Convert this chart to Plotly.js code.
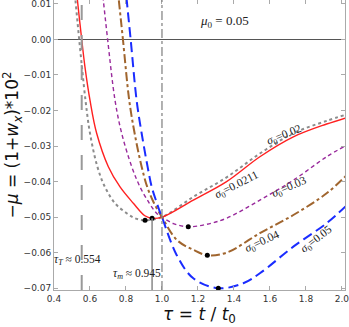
<!DOCTYPE html>
<html><head><meta charset="utf-8">
<script src="https://cdn.plot.ly/plotly-3.0.1.min.js"></script>
<style>html,body{margin:0;padding:0;background:#fff}#c{width:349px;height:327px}</style>
</head><body><div id="c"></div>
<script>
// sigma0 = 0.02 (gray dotted)
const tau002 = [0.510, 0.519, 0.540, 0.575, 0.600, 0.641, 0.683, 0.739, 0.804, 0.850, 0.906, 1.0, 1.174, 1.359, 1.544, 1.730, 1.915, 2.020];
const mu002  = [0.0160, 0.0111, 0.0, -0.0171, -0.0264, -0.0358, -0.0415, -0.0461, -0.0489, -0.0503, -0.0509, -0.0500, -0.0443, -0.0388, -0.0321, -0.0264, -0.0229, -0.0212];
// sigma0 = 0.0211 (red solid)
const tau0211 = [0.520, 0.530, 0.554, 0.572, 0.600, 0.637, 0.702, 0.767, 0.841, 0.905, 0.945, 1.0, 1.174, 1.359, 1.544, 1.730, 1.915, 2.020];
const mu0211  = [0.0160, 0.0111, 0.0, -0.0077, -0.0171, -0.0264, -0.0358, -0.0415, -0.0461, -0.0496, -0.0503, -0.0500, -0.0452, -0.0400, -0.0330, -0.0274, -0.0238, -0.0221];
// sigma0 = 0.03 (purple dashed)
const tau003 = [0.664, 0.674, 0.698, 0.739, 0.776, 0.832, 0.878, 0.930, 0.970, 1.0, 1.063, 1.146, 1.250, 1.359, 1.544, 1.730, 1.915, 2.020];
const mu003  = [0.0160, 0.0111, 0.0, -0.0171, -0.0264, -0.0358, -0.0415, -0.0461, -0.0489, -0.0500, -0.0518, -0.0527, -0.0520, -0.0503, -0.0452, -0.0396, -0.0330, -0.0299];
// sigma0 = 0.04 (brown dash-dot)
const tau004 = [0.750, 0.760, 0.783, 0.818, 0.848, 0.887, 0.918, 0.956, 0.987, 1.0, 1.082, 1.174, 1.252, 1.359, 1.544, 1.730, 1.915, 2.020];
const mu004  = [0.0160, 0.0111, 0.0, -0.0171, -0.0264, -0.0358, -0.0415, -0.0461, -0.0489, -0.0500, -0.0564, -0.0592, -0.0607, -0.0600, -0.0545, -0.0494, -0.0433, -0.0385];
// sigma0 = 0.05 (blue long dash)
const tau005 = [0.795, 0.804, 0.826, 0.859, 0.887, 0.920, 0.943, 0.970, 0.989, 1.0, 1.082, 1.174, 1.313, 1.452, 1.544, 1.730, 1.915, 2.020];
const mu005  = [0.0160, 0.0111, 0.0, -0.0171, -0.0264, -0.0358, -0.0415, -0.0458, -0.0486, -0.0500, -0.0607, -0.0672, -0.0700, -0.0686, -0.0658, -0.0583, -0.0517, -0.0470];
// minima (black dots)
const minTau = [0.906, 0.945, 1.146, 1.252, 1.313];
const minMu  = [-0.0509, -0.0503, -0.0527, -0.0607, -0.0700];
// reference times
const tauT = 0.554, tauM = 0.945, tauOne = 1.0;
const mu0Text = '<i>μ</i><sub>0</sub> = 0.05';
const sigmaLabels = ['0.02', '0.0211', '0.03', '0.04', '0.05'];

const ln = (x, y, color, dash, width) => ({x, y, type:'scatter', mode:'lines', line:{color, dash, width, shape:'spline', smoothing:1.0}, hoverinfo:'skip', showlegend:false, cliponaxis:true});
const traces = [
  ln(tau002, mu002, '#8c8c8c', 'dot', 2),
  ln(tau0211, mu0211, '#ff2020', 'solid', 1.4),
  ln(tau003, mu003, '#992a9c', '4px,3px', 1.4),
  ln(tau004, mu004, '#a0652e', 'dashdot', 2),
  ln(tau005, mu005, '#1a2cff', '10px,5px', 2),
  {x:minTau, y:minMu, type:'scatter', mode:'markers', marker:{color:'#000', size:5}, showlegend:false, hoverinfo:'skip', cliponaxis:false}
];

const serif = {family:'Liberation Serif, serif', size:11.5, color:'#222'};
const sig = i => '<i>σ</i><sub>0</sub>=' + sigmaLabels[i];
const layout = {
  width:349, height:327,
  margin:{l:54, r:4, t:0, b:37},
  paper_bgcolor:'#fff', plot_bgcolor:'#fff',
  showlegend:false,
  xaxis:{range:[0.4, 2.017], dtick:0.2, tick0:0.4, tickformat:'.1f', showgrid:false, zeroline:false,
    showline:true, mirror:'ticks', linecolor:'#aaa', linewidth:1, ticks:'inside', ticklen:4, tickcolor:'#aaa',
    ticklabeloverflow:'allow',
    tickfont:{family:'DejaVu Sans, sans-serif', size:9, color:'#333'},
    title:{text:'<i>τ</i> = <i>t</i> / <i>t</i><sub>0</sub>', font:{family:'DejaVu Sans, sans-serif', size:17, color:'#111'}, standoff:4}},
  yaxis:{range:[-0.0705, 0.0111], dtick:0.01, tick0:0, tickformat:'.2f', showgrid:false,
    zeroline:true, zerolinecolor:'#555', zerolinewidth:1,
    showline:true, mirror:'ticks', linecolor:'#aaa', linewidth:1, ticks:'inside', ticklen:4, tickcolor:'#aaa',
    ticklabeloverflow:'allow',
    tickfont:{family:'DejaVu Sans, sans-serif', size:9, color:'#333'},
    title:{text:'−<i>μ</i> = (1+<i>w</i><sub><i>x</i></sub>)*10<sup>2</sup>', font:{family:'DejaVu Sans, sans-serif', size:17, color:'#111'}, standoff:6}},
  shapes:[
    {type:'line', xref:'x', yref:'paper', x0:tauT, x1:tauT, y0:0, y1:1, line:{color:'#999', width:2, dash:'longdash'}},
    {type:'line', xref:'x', yref:'paper', x0:tauOne, x1:tauOne, y0:0, y1:1, line:{color:'#888', width:1.3, dash:'dashdot'}},
    {type:'line', xref:'x', yref:'y', x0:tauM, x1:tauM, y0:-0.0705, y1:minMu[1], line:{color:'#888', width:1.5}}
  ],
  annotations:[
    {x:1.35, y:0.0051, xref:'x', yref:'y', text:mu0Text, showarrow:false, font:{family:'Liberation Serif, serif', size:13, color:'#222'}},
    {x:1.683, y:-0.0269, text:sig(0), showarrow:false, textangle:-22, font:serif},
    {x:1.417, y:-0.0410, text:sig(1), showarrow:false, textangle:-27, font:serif},
    {x:1.711, y:-0.0415, text:sig(2), showarrow:false, textangle:-23, font:serif},
    {x:1.556, y:-0.0570, text:sig(3), showarrow:false, textangle:-25, font:serif},
    {x:1.861, y:-0.0561, text:sig(4), showarrow:false, textangle:-38, font:serif},
    {x:0.533, y:-0.0621, text:'<i>τ<sub>T</sub></i> ≈ 0.554', showarrow:false, font:serif},
    {x:0.861, y:-0.0660, text:'<i>τ<sub>m</sub></i> ≈ 0.945', showarrow:false, font:serif}
  ]
};
Plotly.newPlot('c', traces, layout, {displayModeBar:false, staticPlot:true});
</script></body></html>
